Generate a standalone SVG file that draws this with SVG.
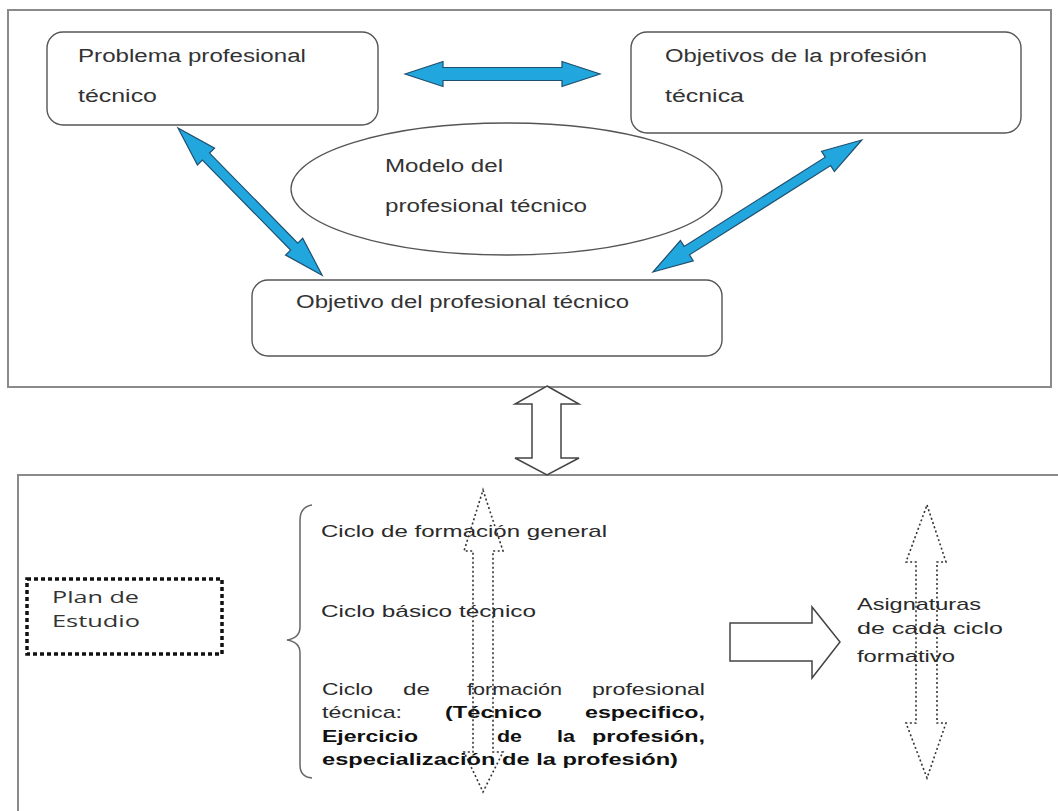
<svg xmlns="http://www.w3.org/2000/svg" width="1058" height="811" viewBox="0 0 1058 811">
<style>
.frame{fill:none;stroke:#8a8a8a;stroke-width:2}
.box{fill:#fff;stroke:#555;stroke-width:1.4}
.t{font-family:"Liberation Sans",Arial,sans-serif;font-size:18px;fill:#333}
.b{font-family:"Liberation Sans",Arial,sans-serif;font-size:17px;fill:#2a2a2a}
.bb{font-family:"Liberation Sans",Arial,sans-serif;font-size:17px;font-weight:bold;fill:#111}
.p{font-family:"Open Sans","DejaVu Sans",sans-serif;font-size:16px;fill:#333}
.blue{fill:#22a6de;stroke:#1d4e6e;stroke-width:1.2;stroke-linejoin:miter}
.hollow{fill:#fff;stroke:#444;stroke-width:1.5}
.dotted{fill:none;stroke:#333;stroke-width:1.6;stroke-dasharray:2 2.5}
</style>
<rect width="1058" height="811" fill="#fff"/>
<rect class="frame" x="8" y="10" width="1043" height="377"/>
<rect class="frame" x="18" y="475" width="1050" height="350"/>

<g id="problema">
<rect class="box" x="47" y="32" width="331" height="93" rx="16"/>
<text class="t" x="78" y="62" textLength="228" lengthAdjust="spacingAndGlyphs">Problema profesional</text>
<text class="t" x="78" y="102" textLength="79" lengthAdjust="spacingAndGlyphs">técnico</text>
</g>
<g id="objetivos-profesion">
<rect class="box" x="631" y="32" width="390" height="101" rx="16"/>
<text class="t" x="665" y="62" textLength="262" lengthAdjust="spacingAndGlyphs">Objetivos de la profesión</text>
<text class="t" x="665" y="102" textLength="79" lengthAdjust="spacingAndGlyphs">técnica</text>
</g>
<g id="modelo">
<ellipse cx="506.5" cy="189" rx="215.5" ry="66" fill="#fff" stroke="#555" stroke-width="1.3"/>
<text class="t" x="385" y="172" textLength="118" lengthAdjust="spacingAndGlyphs">Modelo del</text>
<text class="t" x="385" y="212" textLength="202" lengthAdjust="spacingAndGlyphs">profesional técnico</text>
</g>
<g id="objetivo-profesional">
<rect class="box" x="252" y="280" width="470" height="76" rx="16"/>
<text class="t" x="296" y="308" textLength="333" lengthAdjust="spacingAndGlyphs">Objetivo del profesional técnico</text>
</g>

<g id="plan">
<rect x="27" y="579" width="195" height="75" fill="none" stroke="#111" stroke-width="3.5" stroke-dasharray="4 3"/>
<text class="p" x="52" y="603" textLength="87" lengthAdjust="spacingAndGlyphs">Plan de</text>
<text class="p" x="52" y="627" textLength="88" lengthAdjust="spacingAndGlyphs">Estudio</text>
</g>

<g id="ciclos">
<path d="M312,505 Q300,507 300,520 L300,627 Q300,638 287,640 Q300,642 300,653 L300,765 Q300,777 312,778" fill="none" stroke="#666" stroke-width="1.5"/>
<text class="b" x="321" y="537" textLength="286" lengthAdjust="spacingAndGlyphs">Ciclo de formación general</text>
<text class="b" x="321" y="617" textLength="215" lengthAdjust="spacingAndGlyphs">Ciclo básico técnico</text>
<text class="b" x="322" y="695" textLength="51" lengthAdjust="spacingAndGlyphs">Ciclo</text>
<text class="b" x="403" y="695" textLength="27" lengthAdjust="spacingAndGlyphs">de</text>
<text class="b" x="467" y="695" textLength="95" lengthAdjust="spacingAndGlyphs">formación</text>
<text class="b" x="592" y="695" textLength="113" lengthAdjust="spacingAndGlyphs">profesional</text>
<text class="b" x="322" y="718" textLength="80" lengthAdjust="spacingAndGlyphs">técnica:</text>
<text class="bb" x="445" y="718" textLength="97" lengthAdjust="spacingAndGlyphs">(Técnico</text>
<text class="bb" x="585" y="718" textLength="120" lengthAdjust="spacingAndGlyphs">especifico,</text>
<text class="bb" x="322" y="742" textLength="96" lengthAdjust="spacingAndGlyphs">Ejercicio</text>
<text class="bb" x="497" y="742" textLength="25" lengthAdjust="spacingAndGlyphs">de</text>
<text class="bb" x="557" y="742" textLength="18" lengthAdjust="spacingAndGlyphs">la</text>
<text class="bb" x="592" y="742" textLength="113" lengthAdjust="spacingAndGlyphs">profesión,</text>
<text class="bb" x="322" y="765" textLength="356" lengthAdjust="spacingAndGlyphs">especialización de la profesión)</text>
</g>

<g id="asignaturas">
<text class="b" x="857" y="610" textLength="124" lengthAdjust="spacingAndGlyphs">Asignaturas</text>
<text class="b" x="857" y="634" textLength="146" lengthAdjust="spacingAndGlyphs">de cada ciclo</text>
<text class="b" x="857" y="662" textLength="98" lengthAdjust="spacingAndGlyphs">formativo</text>
</g>

<g id="connectors">
<polygon class="blue" transform="translate(405,74)" points="0,0 38,-12.5 38,-6.5 157,-6.5 157,-12.5 195,0 157,12.5 157,6.5 38,6.5 38,12.5"/>
<polygon class="blue" transform="translate(178,128) rotate(45.6)" points="0,0 40,-12 40,-5 166,-5 166,-12 206,0 166,12 166,5 40,5 40,12"/>
<polygon class="blue" transform="translate(653,272) rotate(-32.3)" points="0,0 40,-12 40,-5 207,-5 207,-12 247,0 207,12 207,5 40,5 40,12"/>
<polygon class="hollow" points="547,386 579,404 561,404 561,458 579,458 547,475 515,458 532,458 532,404 515,404"/>
<polygon class="hollow" points="730,623 812,623 812,607 840,642 812,678 812,661 730,661"/>
<polygon class="dotted" points="483,490 503,551 493,551 493,752 503,752 483,792 464,752 473,752 473,551 464,551"/>
<polygon class="dotted" points="927,505 946,562 937,562 937,723 946,723 927,778 906,723 916,723 916,562 906,562"/>
</g>
</svg>
